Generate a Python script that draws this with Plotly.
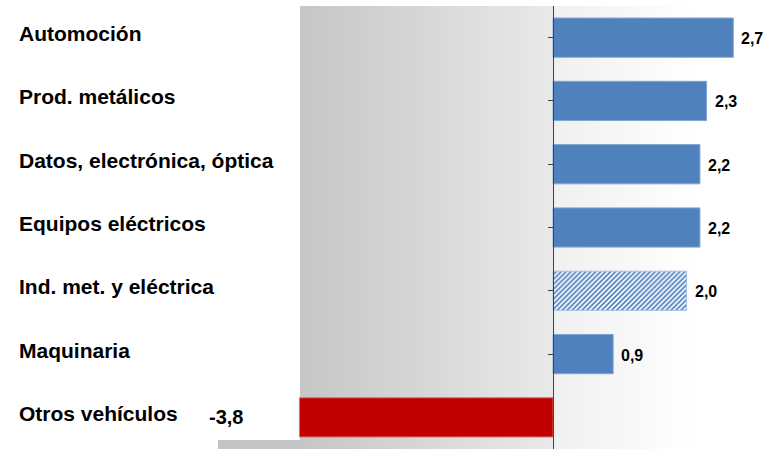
import plotly.graph_objects as go

categories = ["Automoción", "Prod. metálicos", "Datos, electrónica, óptica",
              "Equipos eléctricos", "Ind. met. y eléctrica", "Maquinaria", "Otros vehículos"]
values = [2.7, 2.3, 2.2, 2.2, 2.0, 0.9, -3.8]
value_labels = ["2,7", "2,3", "2,2", "2,2", "2,0", "0,9", "-3,8"]
hatched = ["Ind. met. y eléctrica"]

W, H = 764, 449
L = 218
T = 6
PW = W - L
PH = H - T
ZERO_PX = 553
xmin, xmax = -5.02, 3.16

BLUE = "#4F81BD"
RED = "#C00000"
FONT = "Arial, Liberation Sans, sans-serif"

ypos = list(range(len(categories)))[::-1]  # top to bottom

fig = go.Figure()
solid_idx = [i for i, c in enumerate(categories) if c not in hatched]
hatch_idx = [i for i, c in enumerate(categories) if c in hatched]

fig.add_trace(go.Bar(
    x=[values[i] for i in solid_idx], y=[ypos[i] for i in solid_idx],
    orientation="h", width=0.62,
    marker=dict(color=[RED if values[i] < 0 else BLUE for i in solid_idx],
                line=dict(color=["#E07070" if values[i] < 0 else "#7FA6D6" for i in solid_idx],
                          width=1)),
    hoverinfo="skip", showlegend=False,
))
fig.add_trace(go.Bar(
    x=[values[i] for i in hatch_idx], y=[ypos[i] for i in hatch_idx],
    orientation="h", width=0.62,
    marker=dict(color=BLUE, line=dict(color="#A9C3E3", width=1),
                pattern=dict(shape="/", fgcolor=BLUE, bgcolor="white",
                             size=3.5, solidity=0.5, fillmode="replace")),
    hoverinfo="skip", showlegend=False,
))


def gray_at(px):
    if px < 300:
        return 196 + (px - L) / (300 - L) * 2
    if px < ZERO_PX:
        return 198 + (px - 300) / (ZERO_PX - 300) * 35
    if px < 700:
        return 240 + (px - ZERO_PX) / (700 - ZERO_PX) * 15
    return 255


shapes = []
step = 4
px = L
while px < W:
    g = int(round(min(255, gray_at(px + step / 2))))
    shapes.append(dict(type="rect", xref="paper", yref="paper",
                       x0=(px - L) / PW, x1=(px + step + 0.5 - L) / PW,
                       y0=0, y1=1, fillcolor=f"rgb({g},{g},{g})", line=dict(width=0),
                       layer="below"))
    px += step
# white label panel on the left
shapes.append(dict(type="rect", xref="paper", yref="paper",
                   x0=-0.5, x1=(300 - L) / PW, y0=9 / PH, y1=1.05,
                   fillcolor="white", line=dict(width=0), layer="below"))

annotations = []
for c, y in zip(categories, ypos):
    annotations.append(dict(text=f"<b>{c}</b>", x=(17 - L) / PW, xref="paper", y=y, yref="y",
                            xanchor="left", yanchor="middle", yshift=4, showarrow=False,
                            font=dict(size=21, color="black", family=FONT)))
for v, lab, y in zip(values, value_labels, ypos):
    if v >= 0:
        annotations.append(dict(text=f"<b>{lab}</b>", x=v, y=y, xref="x", yref="y",
                                xanchor="left", yanchor="middle", xshift=6, yshift=-1,
                                showarrow=False,
                                font=dict(size=16, color="black", family=FONT)))
    else:
        annotations.append(dict(text=f"<b>{lab}</b>", x=v, y=y, xref="x", yref="y",
                                xanchor="right", yanchor="middle", xshift=-54, yshift=0,
                                showarrow=False,
                                font=dict(size=20, color="black", family=FONT)))

fig.update_layout(
    width=W, height=H,
    margin=dict(l=L, r=0, t=T, b=0),
    paper_bgcolor="white", plot_bgcolor="rgba(0,0,0,0)",
    shapes=shapes, annotations=annotations,
    xaxis=dict(range=[xmin, xmax], showgrid=False, zeroline=False, showticklabels=False,
               showline=False, ticks=""),
    yaxis=dict(range=[-0.5, 6.5], showgrid=False, zeroline=False, showticklabels=False,
               tickmode="array", tickvals=ypos, ticks="outside", tickson="boundaries",
               ticklen=5, tickcolor="#404040", showline=True, linecolor="#404040",
               linewidth=1, anchor="free", position=(0 - xmin) / (xmax - xmin)),
    barmode="overlay",
)

fig.write_html("out.html", config={"displayModeBar": False},
               post_script="document.body.style.margin='0';")
